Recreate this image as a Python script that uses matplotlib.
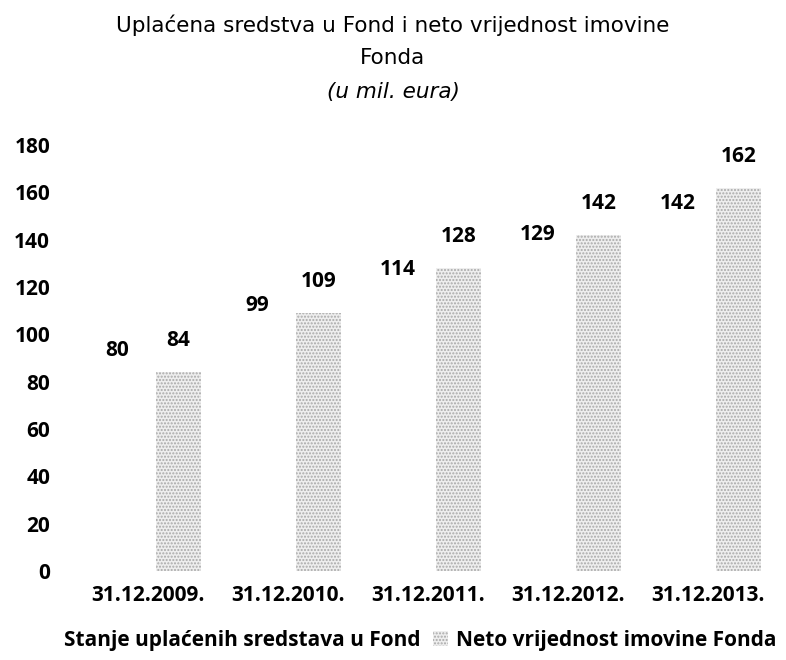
import numpy as np
import matplotlib
matplotlib.use("Agg")
import matplotlib.pyplot as plt
from matplotlib.patches import Patch

# Podaci (u mil. eura)
kategorije = ["31.12.2009.", "31.12.2010.", "31.12.2011.", "31.12.2012.", "31.12.2013."]
uplaceno = [80, 99, 114, 129, 142]
neto_imovina = [84, 109, 128, 142, 162]
y_ticks = [0, 20, 40, 60, 80, 100, 120, 140, 160, 180]

plt.rcParams["font.family"] = ["Open Sans", "DejaVu Sans"]

fig = plt.figure(figsize=(7.86, 6.6), dpi=100)
ax = fig.add_axes([0.099, 0.135, 0.891, 0.645])

x = np.arange(len(kategorije))
sirina = 0.32
pomak = 0.218

b1 = ax.bar(x - pomak, uplaceno, sirina, color="white", linewidth=0)
b2 = ax.bar(x + pomak, neto_imovina, sirina, color="#eeeeee", hatch=".....",
            edgecolor="#a9a9a9", linewidth=0)

for xi, v in zip(x - pomak, uplaceno):
    ax.annotate(str(v), (xi, v), xytext=(0, 15), textcoords="offset points",
                ha="center", va="bottom", fontsize=15, fontweight="bold")
for xi, v in zip(x + pomak, neto_imovina):
    ax.annotate(str(v), (xi, v), xytext=(0, 15), textcoords="offset points",
                ha="center", va="bottom", fontsize=15, fontweight="bold")

ax.set_xlim(-0.5, 4.5)
ax.set_ylim(0, 180)
ax.set_yticks(y_ticks)
ax.set_yticklabels([str(t) for t in y_ticks], fontsize=15, fontweight="bold")
ax.set_xticks(x)
ax.set_xticklabels(kategorije, fontsize=15, fontweight="bold")
ax.tick_params(axis="both", length=0)
ax.tick_params(axis="y", pad=20)
ax.tick_params(axis="x", pad=10)
for s in ax.spines.values():
    s.set_visible(False)

# Naslov
fig.text(0.5, 0.962, "Uplaćena sredstva u Fond i neto vrijednost imovine",
         ha="center", va="center", fontsize=15.5, family=["DejaVu Sans"])
fig.text(0.5, 0.912, "Fonda", ha="center", va="center", fontsize=15.5,
         family=["DejaVu Sans"])
fig.text(0.5, 0.861, "(u mil. eura)", ha="center", va="center", fontsize=15.5,
         style="italic", family=["DejaVu Sans"])

handles = [Patch(facecolor="white", linewidth=0),
           Patch(facecolor="#eeeeee", hatch=".....", edgecolor="#a9a9a9", linewidth=0)]
fig.legend(handles, ["Stanje uplaćenih sredstava u Fond", "Neto vrijednost imovine Fonda"],
           loc="center", bbox_to_anchor=(0.52, 0.03), ncol=2, frameon=False,
           prop={"size": 15, "weight": "bold"}, handlelength=0.7, handleheight=0.7,
           columnspacing=0.6, handletextpad=0.4)

fig.savefig("out.png", dpi=100)
